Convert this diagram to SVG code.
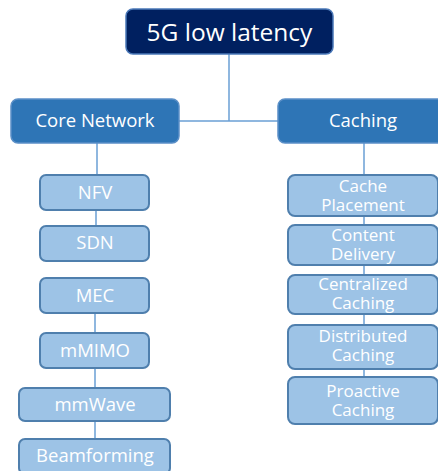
<svg xmlns="http://www.w3.org/2000/svg" width="438" height="471" viewBox="0 0 438 471">
<style>
.lnk{stroke:#6A9FD4;stroke-width:1.5;fill:none}
.root{fill:#002060;stroke:#4A78B8;stroke-width:1.5}
.mid{fill:#2E75B6;stroke:#5B8FC7;stroke-width:1.5}
.leaf{fill:#9DC3E6;stroke:#4F7FAD;stroke-width:2}
text{font-family:"Open Sans","Liberation Sans",sans-serif;fill:#FFFFFF;text-anchor:middle}
.t1{font-size:24.5px}
.t2{font-size:18.5px}
.t3{font-size:18.5px}
.t4{font-size:17px}
</style>
<g id="connectors">
<line class="lnk" x1="229" y1="54" x2="229" y2="121"/>
<line class="lnk" x1="179" y1="121" x2="278" y2="121"/>
<line class="lnk" x1="97" y1="143" x2="97" y2="175"/>
<line class="lnk" x1="96" y1="210" x2="96" y2="226"/>
<line class="lnk" x1="95" y1="313" x2="95" y2="333"/>
<line class="lnk" x1="95" y1="368" x2="95" y2="388"/>
<line class="lnk" x1="95" y1="421" x2="95" y2="439"/>
<line class="lnk" x1="364" y1="143" x2="364" y2="175"/>
<line class="lnk" x1="364" y1="216" x2="364" y2="225"/>
<line class="lnk" x1="364" y1="265" x2="364" y2="275"/>
<line class="lnk" x1="364" y1="314" x2="364" y2="325"/>
<line class="lnk" x1="364" y1="369" x2="364" y2="377"/>
</g>
<g id="root"><rect class="root" x="126" y="9" width="207" height="45" rx="7"/><text class="t1" x="229.5" y="41">5G low latency</text></g>
<g id="core"><rect class="mid" x="11" y="99" width="168" height="44" rx="7"/><text class="t2" x="95" y="127">Core Network</text></g>
<g id="caching"><rect class="mid" x="278" y="99" width="170" height="44" rx="7"/><text class="t2" x="363" y="127">Caching</text></g>
<g id="nfv"><rect class="leaf" x="40" y="175" width="109" height="35" rx="6"/><text class="t3" x="95" y="198.5">NFV</text></g>
<g id="sdn"><rect class="leaf" x="40" y="226" width="109" height="35" rx="6"/><text class="t3" x="95" y="249">SDN</text></g>
<g id="mec"><rect class="leaf" x="40" y="278" width="109" height="35" rx="6"/><text class="t3" x="95" y="302">MEC</text></g>
<g id="mmimo"><rect class="leaf" x="40" y="333" width="109" height="35" rx="6"/><text class="t3" x="95" y="357">mMIMO</text></g>
<g id="mmwave"><rect class="leaf" x="19" y="388" width="151" height="33" rx="6"/><text class="t3" x="95" y="410.5">mmWave</text></g>
<g id="beamforming"><rect class="leaf" x="19" y="439" width="151" height="35" rx="6"/><text class="t3" x="95" y="462">Beamforming</text></g>
<g id="cache-placement"><rect class="leaf" x="288" y="175" width="150" height="41" rx="7"/><text class="t4"><tspan x="363" y="192">Cache</tspan><tspan x="363" y="211">Placement</tspan></text></g>
<g id="content-delivery"><rect class="leaf" x="288" y="225" width="150" height="40" rx="7"/><text class="t4"><tspan x="363" y="241">Content</tspan><tspan x="363" y="259.5">Delivery</tspan></text></g>
<g id="centralized-caching"><rect class="leaf" x="288" y="275" width="150" height="39" rx="7"/><text class="t4"><tspan x="363" y="290">Centralized</tspan><tspan x="363" y="308.5">Caching</tspan></text></g>
<g id="distributed-caching"><rect class="leaf" x="288" y="325" width="150" height="44" rx="7"/><text class="t4"><tspan x="363" y="342">Distributed</tspan><tspan x="363" y="360.5">Caching</tspan></text></g>
<g id="proactive-caching"><rect class="leaf" x="288" y="377" width="150" height="47" rx="7"/><text class="t4"><tspan x="363" y="397">Proactive</tspan><tspan x="363" y="415.5">Caching</tspan></text></g>
</svg>
